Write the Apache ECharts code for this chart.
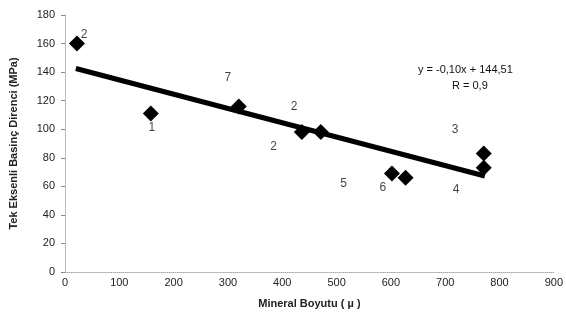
<!DOCTYPE html>
<html>
<head>
<meta charset="utf-8">
<script src="https://cdn.jsdelivr.net/npm/echarts@6/dist/echarts.min.js"></script>
<style>
  html, body { margin: 0; padding: 0; background: #fff; }
  #chart { width: 566px; height: 323px; }
</style>
</head>
<body>
<div id="chart"></div>
<script>
// measured points (mineral size, strength)
var sizes = [22, 158, 320, 436, 471, 602, 627, 771, 771];
var strengths = [160, 111, 116, 98, 98, 69, 66, 83, 73];

// trend line y = -0.10x + 144.51
var slope = -0.10, intercept = 144.51;
var trendX = [20, 773];

// small numbers written next to the points
var noteX = [35, 160, 300, 422, 384, 513, 585, 718, 720];
var noteY = [166, 101, 136, 116, 88, 62, 59, 100, 58];
var noteText = ['2', '1', '7', '2', '2', '5', '6', '3', '4'];

var xTicks = [0, 100, 200, 300, 400, 500, 600, 700, 800, 900];
var yTicks = [0, 20, 40, 60, 80, 100, 120, 140, 160, 180];

var chart = echarts.init(document.getElementById('chart'));

var points = sizes.map(function (x, i) { return [x, strengths[i]]; });
var trend = trendX.map(function (x) { return [x, slope * x + intercept]; });
var notes = noteX.map(function (x, i) { return [x, noteY[i], noteText[i]]; });

var font = 'Liberation Sans, Arial, sans-serif';

var option = {
    backgroundColor: '#fff',
    animation: false,
    grid: { left: 62, right: 9, top: 15, bottom: 51 },
    xAxis: {
        type: 'value', min: xTicks[0], max: xTicks[xTicks.length - 1], interval: 100,
        name: 'Mineral Boyutu ( µ )', nameLocation: 'middle', nameGap: 26,
        nameTextStyle: { fontFamily: font, fontSize: 11, fontWeight: 'bold', color: '#222' },
        axisLine: { lineStyle: { color: '#aaa', type: 'dotted', width: 1 } },
        axisTick: { show: false },
        axisLabel: { fontFamily: font, fontSize: 11, color: '#222', margin: 5 },
        splitLine: { show: false }
    },
    yAxis: {
        type: 'value', min: yTicks[0], max: yTicks[yTicks.length - 1], interval: 20,
        name: 'Tek Eksenli Basinç Direnci (MPa)', nameLocation: 'middle', nameGap: 46,
        nameTextStyle: { fontFamily: font, fontSize: 11, fontWeight: 'bold', color: '#222' },
        axisLine: { show: true, lineStyle: { color: '#aaa', type: 'dotted', width: 1 } },
        axisTick: { show: true, length: 4, lineStyle: { color: '#888' } },
        axisLabel: { fontFamily: font, fontSize: 11, color: '#222', margin: 10 },
        splitLine: { show: false }
    },
    series: [
        {
            type: 'line', data: trend, symbol: 'none',
            lineStyle: { color: '#000', width: 5 }, z: 2
        },
        {
            type: 'scatter', data: points, symbol: 'diamond', symbolSize: 16,
            itemStyle: { color: '#000', opacity: 1 }, z: 3
        },
        {
            type: 'scatter', data: notes, symbolSize: 0, silent: true,
            label: {
                show: true, position: 'inside', formatter: function (p) { return p.value[2]; },
                fontFamily: font, fontSize: 12, color: '#111'
            }
        }
    ],
    graphic: [
        {
            type: 'text', left: 418, top: 64,
            style: { text: 'y = -0,10x + 144,51', font: '11px ' + font, fill: '#111' }
        },
        {
            type: 'text', left: 452, top: 80,
            style: { text: 'R = 0,9', font: '11px ' + font, fill: '#111' }
        }
    ]
};

chart.setOption(option);
</script>
</body>
</html>
